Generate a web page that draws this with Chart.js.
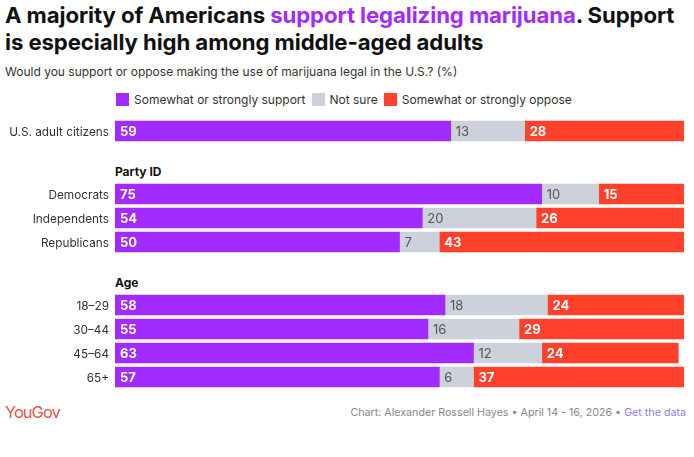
<!DOCTYPE html>
<html>
<head>
<meta charset="utf-8">
<script src="https://cdn.jsdelivr.net/npm/chart.js@4"></script>
<style>
  body { margin: 0; width: 694px; height: 457px; background: #fff; font-family: Inter, "Noto Sans", sans-serif; position: relative; overflow: hidden; }
  .abs { position: absolute; }
  #title { left: 5px; top: 1px; width: 686px; font-size: 22.2px; font-weight: 700; line-height: 27px; color: #111; letter-spacing: -0.1px; }
  #title .hl { color: #a22bff; }
  #subtitle { left: 5px; top: 64px; font-size: 12px; color: #333; }
  #legend { left: 116px; top: 92px; font-size: 12px; color: #333; display: flex; align-items: center; }
  #legend .item { display: flex; align-items: center; margin-right: 6px; }
  #legend .sw { width: 13px; height: 13px; margin-right: 5px; }
  .head { left: 115px; font-size: 12px; font-weight: 700; color: #111; }
  #logo { left: 5px; top: 402px; font-size: 16.5px; color: #e8544a; letter-spacing: -1px; }
  #source { right: 8px; top: 406px; font-size: 10.7px; color: #888; }
  #source span { color: #8a7fe6; }
  .box { left: 0; width: 694px; }
</style>
</head>
<body>
<div id="title" class="abs">A majority of Americans <span class="hl">support legalizing marijuana</span>. Support<br>is especially high among middle-aged adults</div>
<div id="subtitle" class="abs">Would you support or oppose making the use of marijuana legal in the U.S.? (%)</div>
<div id="legend" class="abs"></div>

<div class="abs box" style="top:119px;height:24px"><canvas id="c1"></canvas></div>
<div class="abs head" style="top:164px">Party ID</div>
<div class="abs box" style="top:182px;height:72px"><canvas id="c2"></canvas></div>
<div class="abs head" style="top:275px">Age</div>
<div class="abs box" style="top:293px;height:96px"><canvas id="c3"></canvas></div>

<div id="logo" class="abs">YouGov</div>
<div id="source" class="abs">Chart: Alexander Rossell Hayes • April 14 - 16, 2026 • <span>Get the data</span></div>

<script>
const seriesNames = ["Somewhat or strongly support", "Not sure", "Somewhat or strongly oppose"];
const colors = ["#a22bff", "#cdd1db", "#ff412c"];
const labelColors = ["#ffffff", "#555555", "#ffffff"];

const overallCats = ["U.S. adult citizens"];
const overallSupport = [59];
const overallNotSure = [13];
const overallOppose = [28];

const partyCats = ["Democrats", "Independents", "Republicans"];
const partySupport = [75, 54, 50];
const partyNotSure = [10, 20, 7];
const partyOppose = [15, 26, 43];

const ageCats = ["18\u201329", "30\u201344", "45\u201364", "65+"];
const ageSupport = [58, 55, 63, 57];
const ageNotSure = [18, 16, 12, 6];
const ageOppose = [24, 29, 24, 37];

// legend
const legendEl = document.getElementById("legend");
seriesNames.forEach((name, i) => {
  const item = document.createElement("div");
  item.className = "item";
  item.innerHTML = '<div class="sw" style="background:' + colors[i] + '"></div>' + name;
  legendEl.appendChild(item);
});

// value labels inside bars + category labels on the left
const barLabels = {
  id: "barLabels",
  afterDatasetsDraw(chart) {
    const ctx = chart.ctx;
    const yScale = chart.scales.y;
    ctx.save();
    ctx.textBaseline = "middle";
    chart.data.datasets.forEach((ds, di) => {
      const meta = chart.getDatasetMeta(di);
      ctx.textAlign = "left";
      ctx.font = (di === 1 ? "400 " : "700 ") + "13px Inter, 'Noto Sans', sans-serif";
      ctx.fillStyle = labelColors[di];
      meta.data.forEach((bar, i) => {
        const left = Math.min(bar.x, bar.base);
        ctx.fillText(ds.data[i], left + 5, bar.y + 1);
      });
    });
    ctx.textAlign = "right";
    ctx.font = "400 11.8px Inter, 'Noto Sans', sans-serif";
    ctx.fillStyle = "#333";
    chart.data.labels.forEach((lab, i) => {
      ctx.fillText(lab, chart.chartArea.left - 6, yScale.getPixelForValue(i) + 1);
    });
    ctx.restore();
  }
};

function makeChart(id, cats, support, notSure, oppose) {
  const vals = [support, notSure, oppose];
  return new Chart(document.getElementById(id), {
    type: "bar",
    data: {
      labels: cats,
      datasets: vals.map((v, i) => ({
        label: seriesNames[i],
        data: v,
        backgroundColor: colors[i],
        borderWidth: 0,
        barThickness: 20
      }))
    },
    options: {
      indexAxis: "y",
      responsive: true,
      maintainAspectRatio: false,
      animation: false,
      layout: { padding: { left: 0, right: 10, top: 0, bottom: 0 } },
      plugins: { legend: { display: false }, tooltip: { enabled: false } },
      scales: {
        x: { stacked: true, min: 0, max: 100, display: false },
        y: {
          stacked: true,
          border: { display: false },
          grid: { display: false, drawTicks: false },
          ticks: { display: false },
          afterFit(scale) { scale.width = 115; }
        }
      }
    },
    plugins: [barLabels]
  });
}

makeChart("c1", overallCats, overallSupport, overallNotSure, overallOppose);
makeChart("c2", partyCats, partySupport, partyNotSure, partyOppose);
makeChart("c3", ageCats, ageSupport, ageNotSure, ageOppose);
</script>
</body>
</html>
